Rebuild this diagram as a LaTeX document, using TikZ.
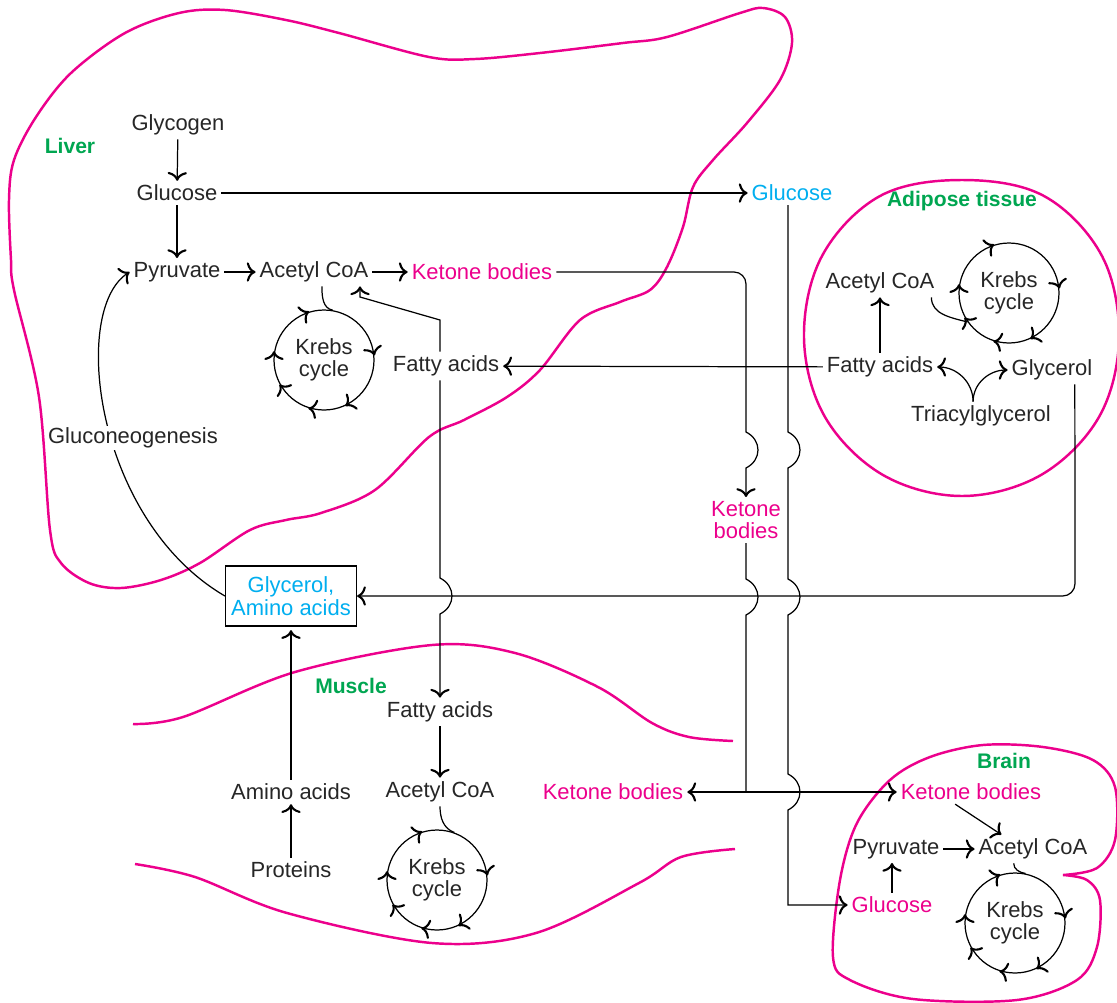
\documentclass[tikz,border=0pt]{standalone}
\usepackage{fontspec}
\setmainfont{Liberation Sans}
\usetikzlibrary{arrows.meta,decorations.markings}
\definecolor{organpink}{RGB}{236,0,140}
\definecolor{bloodblue}{RGB}{0,174,239}
\definecolor{organgreen}{RGB}{0,166,81}
\begin{document}
\begin{tikzpicture}[x=0.02cm,y=-0.02cm,line width=0.7pt,
    every node/.style={font=\fontsize{12.5}{12.8}\selectfont,text=black!85,inner sep=2pt},
    >={To[length=5pt,width=11pt,line width=1.2pt]},
    organ/.style={font=\fontsize{12}{13}\selectfont\bfseries,text=organgreen},
    wall/.style={organpink,line width=1.4pt},
    ket/.style={text=organpink},
    blood/.style={text=bloodblue},
    pool/.style={draw,text=bloodblue,align=center,minimum width=2.62cm,minimum height=1.2cm},
    krebs/.style={circle,draw,minimum size=2cm,inner sep=0pt,align=center,
        postaction={decorate,decoration={markings,
            mark=at position 0.042 with {\arrow{<}},
            mark=at position 0.325 with {\arrow{<}},
            mark=at position 0.5 with {\arrow{<}},
            mark=at position 0.608 with {\arrow{<}},
            mark=at position 0.728 with {\arrow{<}},
            mark=at position 0.847 with {\arrow{<}}}}}]
    \useasboundingbox (0,0) rectangle (1117,1002);

    \draw[wall] plot[smooth cycle,tension=0.55] coordinates {(9,200) (14,160) (36,117) (71,73) (125,33) (179,13) (225,10) (286,20) (339,33) (429,57) (475,59) (540,53) (623,43) (667,37) (740,13) (763,8) (785,17) (792,43) (780,80) (747,123) (713,160) (693,187) (683,227) (667,267) (650,290) (620,302) (580,320) (540,370) (507,397) (464,420) (429,437) (375,490) (321,513) (286,520) (250,530) (200,563) (161,580) (121,588) (89,583) (61,563) (50,530) (39,397) (14,290) (11,260)};
    \draw[wall] plot[smooth cycle,tension=0.6] coordinates {(1119,338) (1102,256) (1044,196) (962,180) (880,196) (822,256) (804,338) (825,417) (883,475) (962,496) (1041,475) (1099,417)};
    \draw[wall] plot[smooth,tension=0.55] coordinates {(133,724) (183,717) (295,672) (432,645) (515,653) (598,687) (652,723) (689,737) (733,741)};
    \draw[wall] plot[smooth,tension=0.55] coordinates {(135,864) (195,877) (287,913) (432,943) (536,933) (639,883) (681,857) (735,849)};
    \draw[wall] plot[smooth,tension=0.55] coordinates {(1063,875) (1087,880) (1100,900) (1097,947) (1077,980) (1017,1000) (913,999) (850,980) (833,957) (840,880) (857,823) (890,780) (930,757) (983,745) (1043,747) (1093,760) (1115,787) (1115,840) (1097,868) (1063,875)};

    \node[organ] (liver) at (70,146) {Liver};
    \node (glyL) at (178,125) {Glycogen};
    \node (gluL) at (177,193) {Glucose};
    \node (pyrL) at (177,272) {Pyruvate};
    \node (acL) at (314,272) {Acetyl CoA};
    \node[ket] (kbL) at (482,272) {Ketone bodies};
    \node[krebs] (krL) at (324,360) {Krebs\\cycle};
    \node (faL) at (446,366) {Fatty acids};
    \node[blood] (gluB) at (792,193) {Glucose};
    \node[ket,align=center] (kbB) at (746,520) {Ketone\\bodies};
    \node[pool] (pool) at (291,596) {Glycerol,\\Amino acids};

    \node[organ] (adip) at (962,201) {Adipose tissue};
    \node (acA) at (880,283) {Acetyl CoA};
    \node[krebs] (krA) at (1009,293) {Krebs\\cycle};
    \node (faA) at (880,367) {Fatty acids};
    \node (glyA) at (1052,370) {Glycerol};
    \node (tag) at (981,416) {Triacylglycerol};

    \node[organ] (musc) at (351,686) {Muscle};
    \node (faM) at (440,712) {Fatty acids};
    \node (aaM) at (291,792) {Amino acids};
    \node (acM) at (440,792) {Acetyl CoA};
    \node[ket] (kbM) at (613,792) {Ketone bodies};
    \node (proM) at (291,870) {Proteins};
    \node[krebs] (krM) at (437,880) {Krebs\\cycle};

    \node[organ] (brain) at (1004,761) {Brain};
    \node[ket] (kbBr) at (971,792) {Ketone bodies};
    \node (pyrBr) at (896,849) {Pyruvate};
    \node (acBr) at (1033,849) {Acetyl CoA};
    \node[ket] (gluBr) at (892,905) {Glucose};
    \node[krebs] (krBr) at (1015,923) {Krebs\\cycle};

    \draw[->] (glyL) -- (gluL);
    \draw[->] (gluL) -- (pyrL);
    \draw[->] (pyrL) -- (acL);
    \draw[->] (acL) -- (kbL);
    \draw[->] (gluL) -- (gluB);
    \draw ([xshift=4.5pt]acL.south) to[out=-90,in=170] (krL.80);
    \coordinate (fa2ac) at (360,297);
    \draw[->] ([xshift=-3.4pt]faL.north) -- (440,320) -- (fa2ac) -- (fa2ac |- acL.south);
    \draw[->] (faA) -- (faL);
    \draw[->] ([xshift=-3.4pt]faL.south) -- (440,578) .. controls (456,586) and (456,606) .. (440,614) -- (faM.north);
    \draw[->] (kbL.east) -- (734,272) to[out=0,in=90] (746,284) -- (746,432) .. controls (762,440) and (762,460) .. (746,468) -- (kbB.north);
    \draw (kbB.south) -- (746,579) .. controls (762,587) and (762,607) .. (746,615) -- (746,792) coordinate (split);
    \draw[->] (split) -- (kbM.east);
    \draw[->] (split) -- (kbBr.west);
    \draw[->] ([xshift=-2.3pt]gluB.south) -- (788,432) .. controls (804,440) and (804,460) .. (788,468) -- (788,579) .. controls (804,587) and (804,607) .. (788,615) -- (788,774) .. controls (804,782) and (804,802) .. (788,810) -- (788,905) -- (gluBr.west);
    \draw[->] (pool.west) .. controls (95,520) and (70,310) .. (pyrL.west);
    \node[fill=white,inner sep=1pt] (gng) at (133,438) {Gluconeogenesis};

    \draw[->] (faA) -- (acA);
    \draw ([xshift=-4pt]acA.south east) to[out=-90,in=165] (krA.215);
    \draw[->] ([xshift=-4.5pt]tag.north) to[out=90,in=0] (faA.east);
    \draw[->] ([xshift=-4.5pt]tag.north) to[out=90,in=180] (glyA.west);
    \coordinate (glyDrop) at (1075,596);
    \draw[->,rounded corners=7pt] ([xshift=13pt]glyA.south) -- (glyDrop) -- (pool.east);

    \draw[->] (proM) -- (aaM);
    \draw[->,shorten >=2pt] (aaM) -- (pool);
    \draw[->] (faM) -- (acM);
    \draw (acM.south) to[out=-90,in=160] (krM.70);

    \draw[->] ([xshift=-9pt]kbBr.south) -- ([xshift=-18pt]acBr.north);
    \draw[->] (pyrBr) -- (acBr);
    \draw[->] (gluBr) -- (gluBr |- pyrBr.south);
    \draw ([xshift=-11pt]acBr.south) to[out=-90,in=170] (krBr.78);
\end{tikzpicture}
\end{document}
